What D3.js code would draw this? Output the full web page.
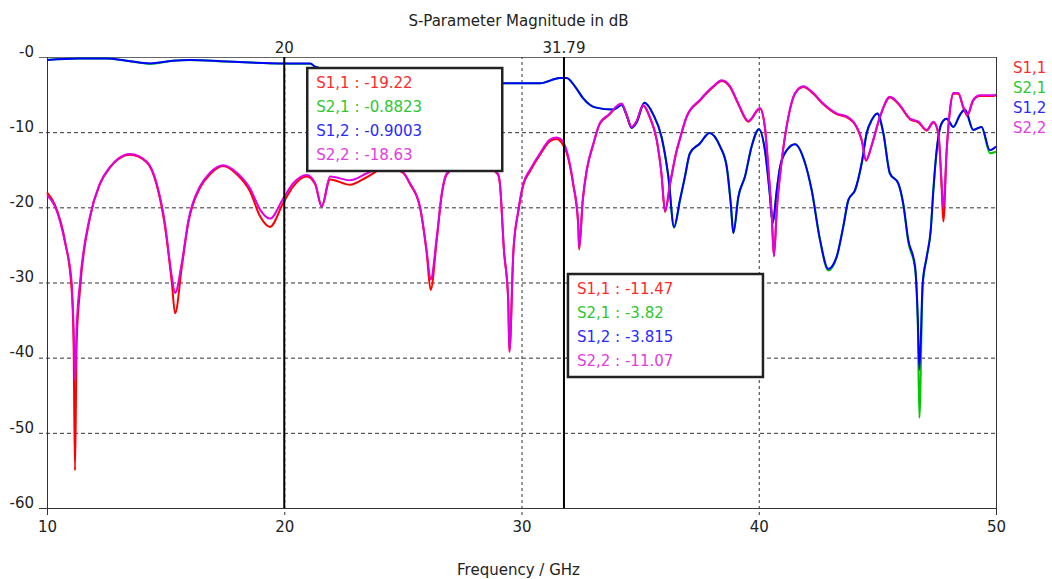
<!DOCTYPE html>
<html>
<head>
<meta charset="utf-8">
<script src="https://cdn.jsdelivr.net/npm/d3@7/dist/d3.min.js"></script>
<style>
body { margin: 0; background: #fff; }
text { font-family: "DejaVu Sans", Verdana, sans-serif; font-size: 15px; }
</style>
</head>
<body>
<div id="chart"></div>
<script>
// reflection curves (S1,1 and S2,2) share one frequency grid
var freqRefl = [
    10.0, 10.34, 10.76, 11.04, 11.12, 11.18, 11.25, 11.39, 11.81, 12.23,
    12.66, 13.0, 13.5, 14.2, 14.62, 14.97, 15.26, 15.4, 15.68, 15.96,
    16.45, 16.87, 17.43, 18.0, 18.56, 18.98, 19.4, 19.96, 20.38, 20.95,
    21.3, 21.58, 21.93, 22.77, 23.47, 24.3, 25.0, 25.3, 25.72, 26.0,
    26.17, 26.43, 26.64, 26.85, 27.9, 29.0, 29.09, 29.26, 29.44, 29.49,
    29.66, 29.87, 30.08, 30.36, 30.78, 31.2, 31.48, 31.69, 31.9, 32.18,
    32.39, 32.43, 32.58, 32.75, 33.03, 33.3, 33.66, 34.22, 34.43, 34.64,
    34.85, 35.13, 35.4, 35.7, 35.9, 36.05, 36.26, 36.54, 36.68, 36.96,
    37.52, 38.08, 38.44, 38.79, 39.14, 39.56, 40.05, 40.26, 40.4, 40.55,
    40.64, 40.76, 40.97, 41.25, 41.53, 41.88, 42.3, 42.72, 43.28, 43.7,
    44.13, 44.34, 44.52, 44.76, 45.11, 45.53, 45.95, 46.38, 46.73, 47.08,
    47.36, 47.57, 47.71, 47.78, 47.92, 48.06, 48.2, 48.41, 48.62, 48.79,
    49.04, 49.32, 49.88, 50.0
];
var s11 = [
    -18.0, -19.7, -24.5, -31.0, -38.0, -55.0, -38.0, -31.0, -21.4, -16.9,
    -14.7, -13.6, -13.0, -14.0, -17.0, -22.5, -30.0, -34.1, -28.0, -22.0,
    -17.4, -15.6, -14.5, -15.6, -17.9, -21.2, -22.6, -19.4, -17.2, -15.9,
    -16.9, -19.9, -16.3, -17.0, -16.0, -14.7, -15.4, -16.9, -20.0, -26.0,
    -31.0, -24.3, -18.3, -15.6, -13.6, -15.6, -16.9, -25.7, -32.3, -39.2,
    -25.8, -20.5, -17.0, -15.2, -13.0, -11.2, -10.9, -11.4, -12.7, -17.0,
    -22.3, -25.6, -19.2, -15.1, -11.6, -8.9, -7.8, -6.3, -7.8, -9.4,
    -8.6, -6.5, -8.0, -11.1, -15.6, -20.6, -17.0, -12.5, -10.9, -8.0,
    -5.8, -4.0, -3.2, -4.0, -6.3, -8.6, -6.9, -9.4, -14.7, -21.3,
    -26.5, -20.4, -13.8, -8.0, -4.9, -4.0, -4.9, -6.3, -7.6, -8.0,
    -9.4, -11.1, -13.8, -11.8, -8.0, -5.4, -6.5, -8.3, -8.7, -9.8,
    -8.7, -10.2, -17.5, -21.9, -12.6, -7.1, -4.9, -4.9, -6.7, -7.8,
    -5.8, -5.2, -5.2, -5.1
];
var s22 = [
    -18.4, -19.9, -24.7, -30.0, -36.0, -43.0, -36.0, -30.0, -21.2, -16.8,
    -14.6, -13.5, -12.9, -13.9, -16.8, -22.1, -29.2, -31.4, -27.4, -21.7,
    -17.2, -15.4, -14.4, -15.4, -17.5, -20.3, -21.5, -18.8, -16.8, -15.7,
    -16.8, -19.9, -15.9, -16.4, -15.5, -14.5, -15.3, -16.8, -19.9, -25.7,
    -29.6, -23.9, -18.1, -15.5, -13.5, -15.5, -16.8, -25.7, -32.3, -39.2,
    -25.7, -20.3, -16.8, -15.0, -12.8, -11.0, -10.7, -11.0, -12.4, -16.8,
    -22.1, -25.4, -19.0, -15.0, -11.5, -8.8, -7.7, -6.2, -7.7, -9.3,
    -8.5, -6.4, -7.9, -11.0, -15.5, -20.5, -16.8, -12.4, -10.8, -7.9,
    -5.7, -3.9, -3.1, -3.9, -6.2, -8.5, -6.8, -9.3, -14.6, -21.2,
    -26.5, -20.3, -13.7, -7.9, -4.8, -3.9, -4.8, -6.2, -7.5, -7.9,
    -9.3, -11.0, -13.7, -11.7, -7.9, -5.3, -6.4, -8.2, -8.6, -9.7,
    -8.6, -10.1, -16.8, -20.2, -12.4, -7.0, -4.8, -4.8, -6.6, -7.7,
    -5.7, -5.1, -5.1, -5.0
];

// transmission curves (S2,1 and S1,2)
var freqTrans = [
    10.0, 11.3, 12.5, 13.36, 14.34, 15.3, 16.0, 17.6, 20.0, 21.1,
    21.3, 22.5, 25.0, 27.5, 29.16, 30.78, 31.62, 31.9, 32.25, 32.6,
    33.1, 33.87, 34.22, 34.43, 34.64, 34.85, 35.18, 35.56, 35.9, 36.19,
    36.43, 36.68, 36.89, 37.1, 37.52, 37.92, 38.37, 38.65, 38.82, 38.93,
    39.14, 39.42, 39.7, 40.01, 40.26, 40.45, 40.59, 40.76, 40.9, 41.18,
    41.53, 41.95, 42.23, 42.58, 42.93, 43.28, 43.56, 43.78, 44.06, 44.34,
    44.55, 44.76, 45.0, 45.25, 45.53, 45.88, 46.09, 46.3, 46.59, 46.7,
    46.77, 46.91, 47.08, 47.25, 47.36, 47.5, 47.71, 47.92, 48.2, 48.48,
    48.69, 49.04, 49.39, 49.74, 50.0
];
var s21 = [
    -0.4, -0.2, -0.2, -0.5, -0.9, -0.5, -0.4, -0.6, -0.88, -0.9,
    -1.3, -2.0, -2.8, -3.3, -3.5, -3.5, -2.8, -2.8, -3.9, -5.5,
    -6.7, -7.0, -6.4, -7.7, -9.4, -8.7, -6.1, -7.7, -10.6, -15.9,
    -22.7, -19.1, -15.9, -12.8, -11.5, -10.1, -11.9, -14.6, -19.5, -23.4,
    -18.6, -15.9, -11.9, -9.6, -12.4, -17.7, -22.1, -17.7, -14.6, -12.4,
    -11.6, -14.1, -17.7, -24.3, -28.4, -26.7, -22.6, -19.0, -17.7, -14.1,
    -10.1, -8.4, -7.5, -10.1, -15.5, -16.8, -19.6, -24.6, -28.2, -35.0,
    -48.0, -30.4, -26.6, -23.0, -17.7, -12.4, -8.8, -8.2, -9.3, -7.7,
    -7.0, -9.7, -9.3, -12.8, -12.6
];
var s12 = [
    -0.4, -0.2, -0.2, -0.5, -0.85, -0.5, -0.4, -0.6, -0.85, -0.85,
    -1.3, -2.0, -2.8, -3.3, -3.5, -3.5, -2.8, -2.8, -3.9, -5.5,
    -6.7, -7.0, -6.4, -7.7, -9.4, -8.7, -6.1, -7.7, -10.6, -15.9,
    -22.6, -19.0, -15.9, -12.8, -11.5, -10.1, -11.9, -14.6, -19.5, -23.4,
    -18.6, -15.9, -11.9, -9.6, -12.4, -17.7, -22.1, -17.7, -14.6, -12.4,
    -11.6, -14.1, -17.7, -24.3, -28.2, -26.6, -22.6, -19.0, -17.7, -14.1,
    -10.1, -8.4, -7.5, -10.1, -15.5, -16.8, -19.5, -24.3, -27.9, -34.5,
    -41.6, -30.1, -26.6, -23.0, -17.7, -12.4, -8.8, -8.2, -9.3, -7.7,
    -7.0, -9.7, -9.3, -12.4, -11.9
];

var seriesNames = ["S1,1", "S2,1", "S1,2", "S2,2"];
var seriesColors = ["#ff0000", "#00c800", "#0000ff", "#e100e1"];
var textColors = ["#ff2a2a", "#2ec82e", "#2a2aff", "#e23ce2"];

var xTicks = [10, 20, 30, 40, 50];
var yTicks = [0, -10, -20, -30, -40, -50, -60];
var yTickLabels = ["-0", "-10", "-20", "-30", "-40", "-50", "-60"];

var markerFreqs = [20, 31.79];
var markerLabels = ["20", "31.79"];
var markerReadouts = [
    ["-19.22", "-0.8823", "-0.9003", "-18.63"],
    ["-11.47", "-3.82", "-3.815", "-11.07"]
];

var title = "S-Parameter Magnitude in dB";
var xTitle = "Frequency / GHz";

function pairs(freq, vals) {
    return freq.map(function(f, i) { return {f: f, v: vals[i]}; });
}

var series = [
    {name: seriesNames[0], color: seriesColors[0], data: pairs(freqRefl, s11)},
    {name: seriesNames[1], color: seriesColors[1], data: pairs(freqTrans, s21)},
    {name: seriesNames[2], color: seriesColors[2], data: pairs(freqTrans, s12)},
    {name: seriesNames[3], color: seriesColors[3], data: pairs(freqRefl, s22)}
];

var W = 1052, H = 579;
var margin = {top: 57, right: 56, bottom: 71, left: 47};
var width = W - margin.left - margin.right;
var height = H - margin.top - margin.bottom;

var svg = d3.select("#chart").append("svg")
    .attr("width", W)
    .attr("height", H);

var x = d3.scaleLinear().domain([10, 50]).range([margin.left, margin.left + width]);
var y = d3.scaleLinear().domain([-60, 0]).range([margin.top + height, margin.top]);

// horizontal grid + y labels (ticks stick out 8px to the left)
var yAxis = svg.append("g")
    .attr("transform", "translate(" + (margin.left - 8) + ",0)")
    .call(d3.axisLeft(y)
        .tickValues(yTicks)
        .tickFormat(function(d, i) { return yTickLabels[i]; })
        .tickSize(-(width + 8))
        .tickPadding(5));
yAxis.select(".domain").remove();
yAxis.selectAll(".tick line")
    .attr("stroke", function(d) { return d === 0 ? "#666" : "#333"; })
    .attr("stroke-dasharray", function(d) { return (d === 0 || d === -60) ? null : "4,3"; });
yAxis.selectAll(".tick text")
    .attr("fill", "#222")
    .attr("dy", "-0.05em")
    .style("font-size", "15px")
    .style("font-family", "DejaVu Sans, Verdana, sans-serif");

// vertical grid + x labels (ticks stick out 7px below)
var xAxis = svg.append("g")
    .attr("transform", "translate(0," + (margin.top + height + 7) + ")")
    .call(d3.axisBottom(x)
        .tickValues(xTicks)
        .tickSize(-(height + 7))
        .tickPadding(6));
xAxis.select(".domain").remove();
xAxis.selectAll(".tick line")
    .attr("stroke", "#333")
    .attr("stroke-dasharray", function(d) { return (d === 10 || d === 50) ? null : "3,3"; });
xAxis.selectAll(".tick text")
    .attr("fill", "#222")
    .style("font-size", "15px")
    .style("font-family", "DejaVu Sans, Verdana, sans-serif");

// curves
var line = d3.line()
    .curve(d3.curveMonotoneX)
    .x(function(d) { return x(d.f); })
    .y(function(d) { return y(d.v); });

svg.append("g").selectAll("path")
    .data(series)
    .enter().append("path")
    .attr("fill", "none")
    .attr("stroke", function(d) { return d.color; })
    .attr("stroke-width", 2)
    .attr("stroke-linejoin", "round")
    .attr("d", function(d) { return line(d.data); });

// markers
svg.append("g").selectAll("line")
    .data(markerFreqs)
    .enter().append("line")
    .attr("x1", function(d) { return x(d); })
    .attr("x2", function(d) { return x(d); })
    .attr("y1", margin.top)
    .attr("y2", margin.top + height)
    .attr("stroke", "#000")
    .attr("stroke-width", 2);

svg.append("g").selectAll("text")
    .data(markerFreqs)
    .enter().append("text")
    .attr("x", function(d) { return x(d); })
    .attr("y", margin.top - 4)
    .attr("text-anchor", "middle")
    .attr("fill", "#222")
    .text(function(d, i) { return markerLabels[i]; });

// readout boxes next to markers
var boxPos = [{dx: 23, top: 68}, {dx: 4, top: 274}];
markerFreqs.forEach(function(f, m) {
    var bx = x(f) + boxPos[m].dx, by = boxPos[m].top;
    var g = svg.append("g").attr("transform", "translate(" + bx + "," + by + ")");
    g.append("rect")
        .attr("width", 195)
        .attr("height", 103)
        .attr("fill", "#fff")
        .attr("stroke", "#222")
        .attr("stroke-width", 2.5);
    g.selectAll("text")
        .data(seriesNames)
        .enter().append("text")
        .attr("x", 9)
        .attr("y", function(d, i) { return 20 + i * 24; })
        .attr("fill", function(d, i) { return textColors[i]; })
        .text(function(d, i) { return d + " : " + markerReadouts[m][i]; });
});

// legend
svg.append("g").selectAll("text")
    .data(seriesNames)
    .enter().append("text")
    .attr("x", 1013)
    .attr("y", function(d, i) { return 73 + i * 20; })
    .attr("fill", function(d, i) { return textColors[i]; })
    .text(function(d) { return d; });

// titles
svg.append("text")
    .attr("x", margin.left + width / 2 - 3)
    .attr("y", 26)
    .attr("text-anchor", "middle")
    .attr("fill", "#222")
    .text(title);

svg.append("text")
    .attr("x", margin.left + width / 2 - 3)
    .attr("y", 575)
    .attr("text-anchor", "middle")
    .attr("fill", "#222")
    .text(xTitle);
</script>
</body>
</html>
